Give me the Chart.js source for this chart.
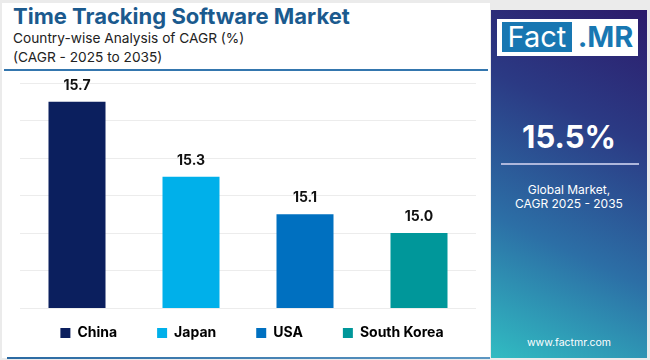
<!DOCTYPE html>
<html>
<head>
<meta charset="utf-8">
<script src="https://cdn.jsdelivr.net/npm/chart.js@4/dist/chart.umd.min.js"></script>
<style>
  html, body { margin: 0; padding: 0; }
  body { width: 650px; height: 360px; overflow: hidden; position: relative; background: #ebebeb; font-family: Inter, "Open Sans", sans-serif; }
  .abs { position: absolute; }
  #painel { left: 2px; top: 3px; width: 488px; height: 355px; background: #fff; }
  #titulo { left: 13px; top: 5px; font-size: 22px; line-height: 22px; font-weight: 700; color: #1b5a8e; white-space: nowrap; }
  .sub { left: 13px; font-size: 13.7px; line-height: 14px; color: #222; white-space: nowrap; }
  #linhaTitulo { left: 4px; top: 69px; width: 484px; height: 2px; background: #3476ae; }
  #linhaBase { left: 7px; top: 357px; width: 483px; height: 2px; background: linear-gradient(to right, #2b6aa2, #5d97c2); }
  #lateral { left: 491px; top: 10px; width: 156px; height: 348px; background: linear-gradient(205deg, #2c1b6b 0%, #2b3a84 32%, #2c6fa6 66%, #31bcc2 100%); color: #fff; }
  #logo { left: 6px; top: 9px; width: 141px; height: 37px; background: #fff; }
  #logoFact { left: 5px; top: 3px; width: 70px; height: 30px; background: #1877b2; color: #fff; font-size: 29px; line-height: 30px; font-weight: 400; text-align: center; }
  #logoMR { left: 77px; top: 3px; width: 63px; height: 30px; color: #1877b2; font-size: 29px; line-height: 30px; font-weight: 700; text-align: center; }
  .centro { left: 0; width: 156px; text-align: center; white-space: nowrap; }
  #valorGlobal { top: 111px; font-size: 31px; line-height: 31px; font-weight: 700; }
  #linhaLateral { left: 10px; top: 153px; width: 138px; height: 2px; background: #aeb7dc; }
  .info { font-size: 12px; line-height: 12px; }
  #site { top: 328px; font-size: 10.5px; line-height: 10.5px; }
  #grafico { left: 0; top: 0; }
</style>
</head>
<body>
<div class="abs" id="painel"></div>
<div class="abs" id="titulo">Time Tracking Software Market</div>
<div class="abs sub" style="top: 31px;">Country-wise Analysis of CAGR (%)</div>
<div class="abs sub" style="top: 50px;">(CAGR - 2025 to 2035)</div>
<div class="abs" id="linhaTitulo"></div>
<div class="abs" id="linhaBase"></div>

<div class="abs" id="lateral">
  <div class="abs" id="logo">
    <div class="abs" id="logoFact">Fact</div>
    <div class="abs" id="logoMR">.MR</div>
  </div>
  <div class="abs centro" id="valorGlobal">15.5%</div>
  <div class="abs" id="linhaLateral"></div>
  <div class="abs centro info" style="top: 174px;">Global Market,</div>
  <div class="abs centro info" style="top: 188px;">CAGR 2025 - 2035</div>
  <div class="abs centro" id="site">www.factmr.com</div>
</div>

<canvas class="abs" id="grafico" width="490" height="372"></canvas>

<script>
// Dados
const paises = ['China', 'Japan', 'USA', 'South Korea'];
const cagr = [15.7, 15.3, 15.1, 15.0];
const cores = ['#0b1f5e', '#00b0ea', '#0070c0', '#00979a'];
const eixoMin = 14.6;
const eixoMax = 15.8;
const eixoPasso = 0.2;

// Valores em cima das barras
const rotulos = {
  id: 'rotulos',
  afterDatasetsDraw(chart) {
    const ctx = chart.ctx;
    const meta = chart.getDatasetMeta(0);
    ctx.save();
    ctx.font = 'bold 14px Inter';
    ctx.fillStyle = '#111';
    ctx.textAlign = 'center';
    ctx.textBaseline = 'middle';
    meta.data.forEach((barra, i) => {
      ctx.fillText(cagr[i].toFixed(1), barra.x, barra.y - 16);
    });
    ctx.restore();
  }
};

// Sobe a legenda para ficar logo abaixo das barras
const ajusteLegenda = {
  id: 'ajusteLegenda',
  afterLayout(chart) {
    const leg = chart.legend;
    leg.top -= 22;
    leg.bottom -= 22;
    leg.left += 14;
    leg.right += 14;
  }
};

const ctx = document.getElementById('grafico').getContext('2d');
const grafico = new Chart(ctx, {
  type: 'bar',
  data: {
    labels: paises,
    datasets: [{
      data: cagr,
      backgroundColor: cores,
      barPercentage: 0.5,
      categoryPercentage: 1
    }]
  },
  options: {
    responsive: false,
    animation: false,
    layout: { padding: { left: 0, right: 14, top: 83, bottom: 0 } },
    scales: {
      x: { display: false },
      y: {
        min: eixoMin,
        max: eixoMax,
        ticks: { display: false, stepSize: eixoPasso },
        grid: { color: '#ececec', drawTicks: false },
        border: { display: false },
        afterFit: scale => { scale.width = 20; }
      }
    },
    plugins: {
      tooltip: { enabled: false },
      legend: {
        position: 'bottom',
        onClick: null,
        labels: {
          boxWidth: 10,
          boxHeight: 10,
          padding: 40,
          color: '#111',
          font: { family: 'Inter', size: 14, weight: 'bold' },
          generateLabels: () => paises.map((p, i) => ({
            text: p,
            fillStyle: cores[i],
            strokeStyle: cores[i],
            lineWidth: 0,
            hidden: false,
            index: i
          }))
        }
      }
    }
  },
  plugins: [rotulos, ajusteLegenda]
});
</script>
</body>
</html>
